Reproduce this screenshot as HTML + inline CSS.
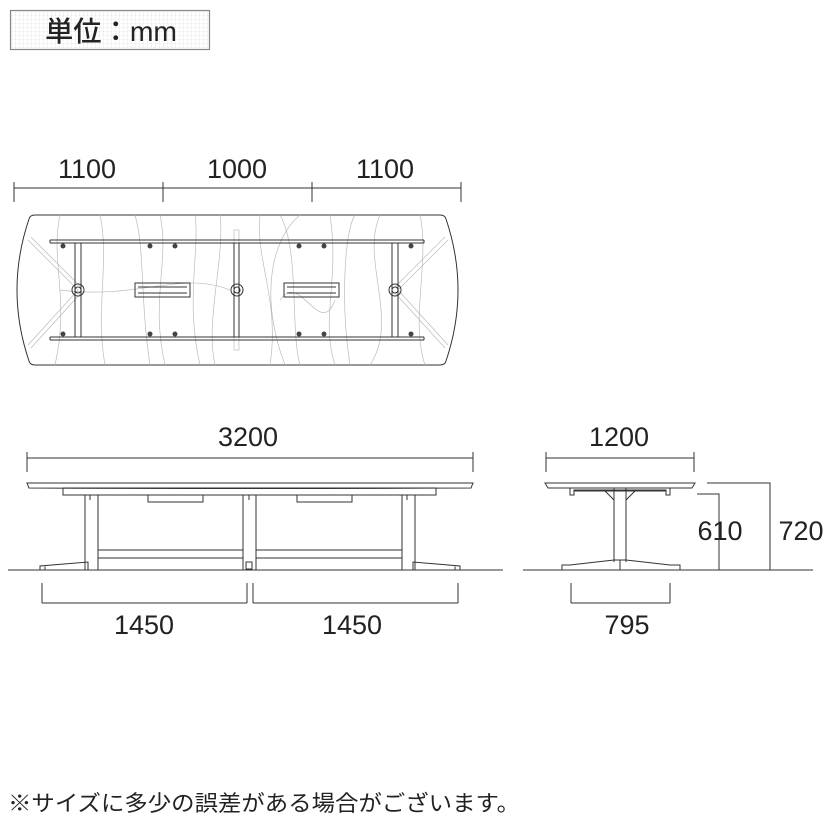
<!DOCTYPE html>
<html><head><meta charset="utf-8"><style>
body{margin:0;background:#fff;width:830px;height:830px;overflow:hidden}
text{font-family:"Liberation Sans","Noto Sans CJK JP",sans-serif;fill:#222}
</style></head><body>
<svg width="830" height="830" viewBox="0 0 830 830" xmlns="http://www.w3.org/2000/svg">
<defs><pattern id="g" width="4" height="4" patternUnits="userSpaceOnUse"><path d="M4 0V4H0" fill="none" stroke="#ddd" stroke-width="0.6"/></pattern></defs>
<rect x="10.5" y="10.5" width="199" height="39" fill="url(#g)" stroke="#888" stroke-width="1.2"/>
<text x="111" y="41" font-size="28" text-anchor="middle" font-weight="500" font-family="'Noto Sans CJK JP',sans-serif" textLength="132" lengthAdjust="spacingAndGlyphs">単位：mm</text>

<g stroke="#333" fill="none" stroke-width="1">
<path d="M14 188H461M14 182V202M163 182V202M312 182V202M461 182V202"/>
<path d="M35 215H440Q445 215 446 219Q470 290 446 361Q445 365 440 365H35Q30 365 29 361Q5 290 29 219Q30 215 35 215Z"/>
<g stroke="#bbb" stroke-width="0.7">
<path d="M60 215C50 260 70 300 55 365M100 215C110 260 95 310 105 365M135 215C145 250 140 300 150 365M160 215C170 260 150 300 165 365M195 215C200 250 185 300 200 365M220 215C225 260 205 320 215 365M260 215C255 260 280 300 270 365M300 215C270 240 260 300 285 365M280 215C300 250 290 330 300 365M330 215C340 280 320 320 335 365M355 215C345 230 340 300 350 365M380 215C360 260 400 320 370 365M420 215C430 260 410 320 425 365M60 290C140 300 180 270 230 290M280 300C300 270 320 340 335 300"/>
<path d="M28 240L78 290L28 345M448 240L398 290L448 345M31 237L81 287M31 348L81 293M445 237L395 287M445 348L395 293"/>
<rect x="234" y="230" width="5" height="120"/>
</g>
<path d="M50 240H424M50 243H424M50 337H424M50 340H424M50 240V243M424 240V243M50 337V340M424 337V340"/>
<path d="M75 243V337M81 243V337M392 243V337M398 243V337M234 243V337M239 243V337"/>
<circle cx="78" cy="290" r="6"/><circle cx="78" cy="290" r="3"/>
<circle cx="237" cy="290" r="6"/><circle cx="237" cy="290" r="3"/>
<circle cx="395" cy="290" r="6"/><circle cx="395" cy="290" r="3"/>
<rect x="135" y="283" width="55" height="14"/><path d="M138 287H187M138 293H187"/>
<rect x="284" y="283" width="55" height="14"/><path d="M287 287H336M287 293H336"/>
</g>
<g fill="#444">
<circle cx="63" cy="246" r="2.5"/><circle cx="150" cy="246" r="2.5"/><circle cx="175" cy="246" r="2.5"/><circle cx="299" cy="246" r="2.5"/><circle cx="324" cy="246" r="2.5"/><circle cx="411" cy="246" r="2.5"/>
<circle cx="63" cy="334" r="2.5"/><circle cx="150" cy="334" r="2.5"/><circle cx="175" cy="334" r="2.5"/><circle cx="299" cy="334" r="2.5"/><circle cx="324" cy="334" r="2.5"/><circle cx="411" cy="334" r="2.5"/>
</g>
<g font-size="27" text-anchor="middle">
<text x="87" y="178">1100</text><text x="237" y="178">1000</text><text x="385" y="178">1100</text>
<text x="248" y="446">3200</text><text x="619" y="446">1200</text>
<text x="144" y="634">1450</text><text x="352" y="634">1450</text><text x="627" y="634">795</text>
<text x="720" y="540">610</text><text x="801" y="540">720</text>
</g>

<g stroke="#333" fill="none" stroke-width="1">
<path d="M27 458H473M27 452V472M473 452V472"/>
<path d="M27 483H473L471 488Q250 489 29 488Z"/>
<rect x="63" y="488" width="373" height="7"/>
<rect x="148" y="495" width="55" height="7"/><rect x="297" y="495" width="55" height="7"/>
<path d="M85 495V570M98 495V570M243 495V570M256 495V570M402 495V570M415 495V570M90 495V500M249 495V500M407 495V500"/>
<path d="M98 550H243M98 558H243M256 550H402M256 558H402"/>
<path d="M40 570V566L88 562V570M40 566H45V570M460 570V566L413 562V570M460 566H455V570"/>
<rect x="246" y="562" width="6" height="7"/>
<path d="M8 570H503"/>
<path d="M42 603H247M42 583V603M247 583V603M253 603H458M253 583V603M458 583V603"/>
<path d="M546 458H694M546 452V472M694 452V472"/>
<path d="M545 483H695L692 488H548Z"/>
<path d="M570 488V495H574V490H666V495H670V488M574 491H666"/>
<path d="M614 488V562M626 488V562M604 490L614 500M636 490L626 500"/>
<path d="M562 570V565H570L614 560H626L670 565H680V570M620 560V570"/>
<path d="M523 570H813"/>
<path d="M707 483H770V570M697 494H719V570"/>
<path d="M571 603H670M571 583V603M670 583V603"/>
</g>
<text x="8" y="811" font-size="22" font-family="'Noto Sans CJK JP',sans-serif" textLength="512" lengthAdjust="spacingAndGlyphs">※サイズに多少の誤差がある場合がございます。</text>
</svg>
</body></html>
